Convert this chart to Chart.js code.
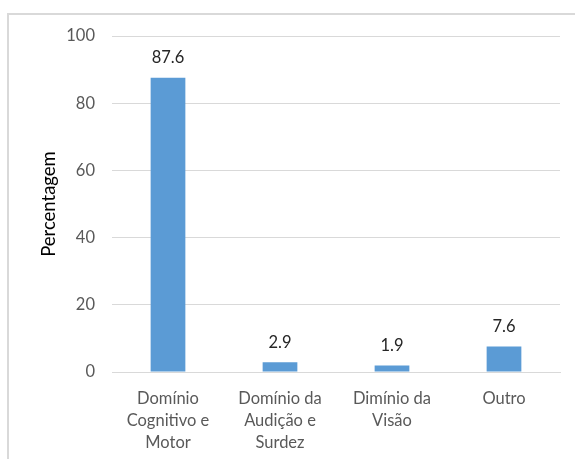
<!DOCTYPE html>
<html>
<head>
<meta charset="utf-8">
<script src="https://cdn.jsdelivr.net/npm/chart.js@4"></script>
<style>
    html, body { margin: 0; padding: 0; background: #fff; overflow: hidden; }
    #wrap { position: relative; width: 575px; height: 459px; }
    #moldura {
        position: absolute; left: 7px; top: 13px; width: 700px; height: 600px;
        border-left: 2px solid #d9d9d9; border-top: 2px solid #d9d9d9;
    }
    canvas { position: absolute; left: 0; top: 0; }
</style>
</head>
<body>
<div id="wrap">
    <div id="moldura"></div>
    <canvas id="grafico" width="575" height="459"></canvas>
</div>
<script>
// dados do gráfico
const categorias = [
    ["Domínio", "Cognitivo e", "Motor"],
    ["Domínio da", "Audição e", "Surdez"],
    ["Dimínio da", "Visão"],
    ["Outro"]
];
const percentagens = [87.6, 2.9, 1.9, 7.6];
const rotulos = ["87.6", "2.9", "1.9", "7.6"];
const ticksY = [0, 20, 40, 60, 80, 100];

// rótulos por cima das barras
const rotulosBarras = {
    id: 'rotulosBarras',
    afterDatasetsDraw(chart) {
        const ctx = chart.ctx;
        const meta = chart.getDatasetMeta(0);
        ctx.save();
        ctx.font = '16.5px Lato';
        ctx.fillStyle = '#262626';
        ctx.textAlign = 'center';
        ctx.textBaseline = 'middle';
        meta.data.forEach((bar, i) => {
            ctx.fillText(rotulos[i], bar.x, bar.y - 20);
        });
        ctx.restore();
    }
};

const ctx = document.getElementById('grafico').getContext('2d');
new Chart(ctx, {
    type: 'bar',
    data: {
        labels: categorias,
        datasets: [{
            data: percentagens,
            backgroundColor: '#5b9bd5',
            barPercentage: 0.31,
            categoryPercentage: 1.0
        }]
    },
    options: {
        responsive: false,
        animation: false,
        layout: { padding: { left: 0, right: 15, top: 36, bottom: 0 } },
        plugins: { legend: { display: false }, tooltip: { enabled: false } },
        scales: {
            x: {
                grid: { display: false, drawTicks: false },
                border: { display: true, color: '#d9d9d9', width: 1 },
                ticks: {
                    color: '#595959', padding: 15, maxRotation: 0, autoSkip: false,
                    font: { family: 'Lato', size: 16.5, lineHeight: 1.36 }
                },
                afterFit(scale) { scale.height = 459 - 372; }
            },
            y: {
                min: 0, max: 100,
                afterBuildTicks(scale) { scale.ticks = ticksY.map(v => ({ value: v })); },
                grid: { color: '#d9d9d9', drawTicks: false },
                border: { display: false },
                ticks: {
                    color: '#595959', padding: 17,
                    font: { family: 'Lato', size: 16.5 }
                },
                title: {
                    display: true, text: 'Percentagem', color: '#000',
                    font: { family: 'Lato', size: 18.5 },
                    padding: { top: 38, bottom: 0 }
                },
                afterFit(scale) { scale.width = 112; }
            }
        }
    },
    plugins: [rotulosBarras]
});
</script>
</body>
</html>
